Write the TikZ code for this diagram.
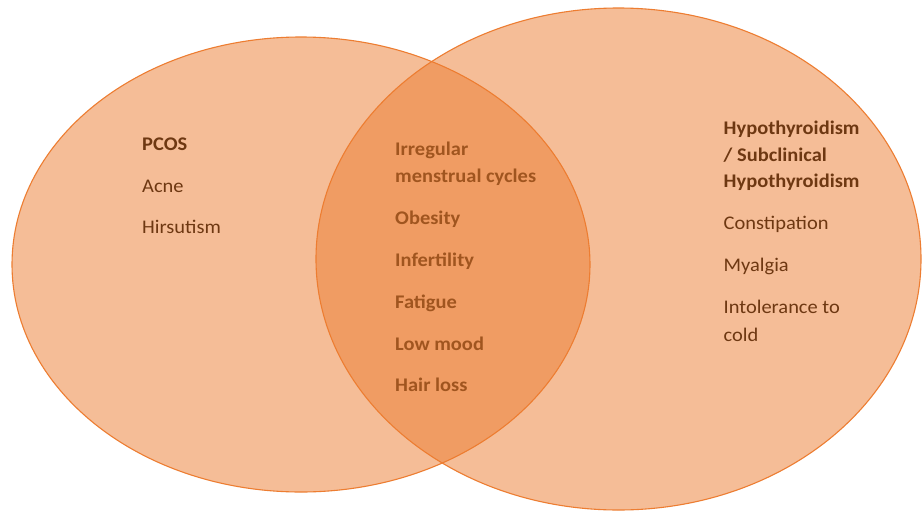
\documentclass[tikz,border=0pt]{standalone}
\usepackage{fontspec}
\setmainfont{Carlito}[FakeStretch=1.06]
\definecolor{orng}{HTML}{ED7D31}
\definecolor{sidetxt}{HTML}{6E3812}
\definecolor{midtxt}{HTML}{A0551F}
\tikzset{
  setshape/.style={draw=orng, line width=1.1pt, fill=orng, fill opacity=0.5, draw opacity=1},
  lbl/.style={anchor=base west, inner sep=0pt, font=\fontsize{19.3}{22}\selectfont, text=sidetxt},
  lblb/.style={lbl, font=\fontsize{19.3}{22}\selectfont\bfseries},
  midlbl/.style={lblb, text=midtxt}
}
\begin{document}
\begin{tikzpicture}[x=1pt,y=-1pt]
\useasboundingbox (0,0) rectangle (922,512);
\fill[white] (0,0) rectangle (922,512);
\path[setshape] (301,264.5) ellipse [x radius=289, y radius=227.5];
\path[setshape] (618.5,259) ellipse [x radius=302.5, y radius=251];
% left set
\node[lblb] (pcos) at (142,150.5) {PCOS};
\node[lbl] (acne) at (142,192.5) {Acne};
\node[lbl] (hirs) at (142,233) {Hirsutism};
% intersection
\node[midlbl] (irr1) at (395,155) {Irregular};
\node[midlbl] (irr2) at (395,182) {menstrual cycles};
\node[midlbl] (obes) at (395,224) {Obesity};
\node[midlbl] (infe) at (395,266) {Infertility};
\node[midlbl] (fati) at (395,308) {Fatigue};
\node[midlbl] (lowm) at (395,350) {Low mood};
\node[midlbl] (hair) at (395,391.5) {Hair loss};
% right set
\node[lblb] (hyp1) at (723.5,134) {Hypothyroidism};
\node[lblb] (hyp2) at (723.5,161) {/ Subclinical};
\node[lblb] (hyp3) at (723.5,187.5) {Hypothyroidism};
\node[lbl] (cons) at (723.5,229) {Constipation};
\node[lbl] (myal) at (723.5,271.5) {Myalgia};
\node[lbl] (intl1) at (723.5,313) {Intolerance to};
\node[lbl] (intl2) at (723.5,341) {cold};
\end{tikzpicture}
\end{document}
